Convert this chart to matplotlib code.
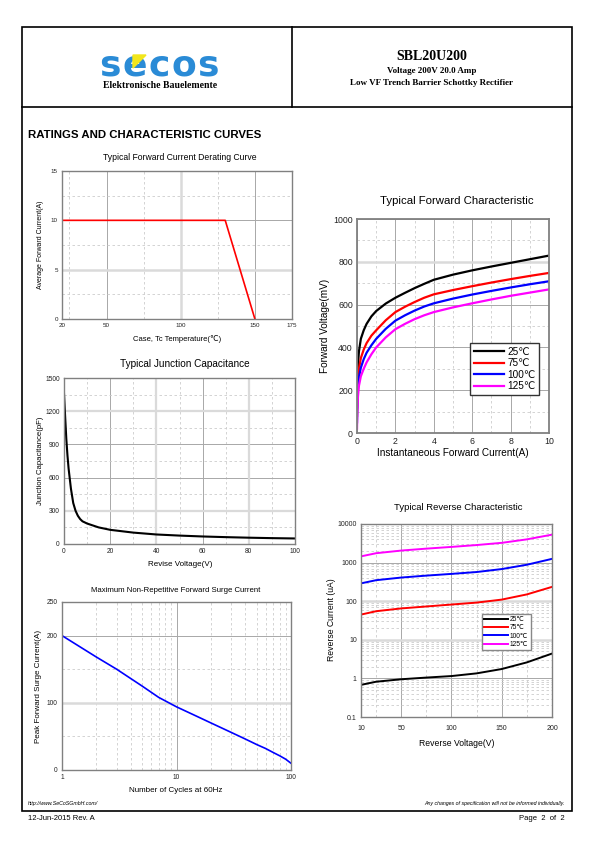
import matplotlib
matplotlib.use("Agg")
import matplotlib.pyplot as plt
from matplotlib.patches import Rectangle, Polygon

plt.rcParams['font.family'] = ['Liberation Sans', 'DejaVu Sans']

# ---- data ----
# derating curve
derate_temp = [20, 130, 150]
derate_amp = [10, 10, 0]

# junction capacitance
cap_volt = [0, 0.5, 1, 1.5, 2, 3, 4, 5, 6, 7, 8, 10, 15, 20, 30, 40, 50, 60, 70, 80, 90, 100]
cap_pf = [1360, 1150, 950, 800, 680, 500, 370, 300, 255, 225, 205, 185, 150, 128, 103, 86, 76, 68, 62, 57, 53, 50]

# surge current
surge_cycles = [1, 2, 3, 5, 7, 10, 15, 20, 30, 40, 50, 60, 70, 80, 90, 100]
surge_amp = [200, 168, 150, 125, 108, 94, 80, 70, 56, 46, 38, 32, 26, 21, 16, 10]

# forward characteristic
fwd_current = [0, 0.02, 0.05, 0.1, 0.2, 0.35, 0.5, 0.75, 1, 1.5, 2, 2.5, 3, 3.5, 4, 5, 6, 7, 8, 9, 10]
fwd_25 = [120, 250, 320, 380, 440, 480, 510, 545, 570, 605, 632, 655, 677, 697, 716, 740, 760, 778, 795, 812, 829]
fwd_75 = [80, 190, 250, 300, 350, 390, 420, 455, 480, 527, 565, 590, 612, 632, 648, 668, 686, 703, 719, 734, 748]
fwd_100 = [50, 150, 210, 260, 305, 345, 375, 410, 440, 487, 525, 550, 572, 591, 606, 628, 647, 664, 680, 695, 709]
fwd_125 = [20, 110, 170, 220, 265, 300, 330, 368, 400, 447, 485, 510, 532, 550, 565, 587, 606, 624, 641, 656, 671]

# reverse characteristic
rev_volt = [10, 25, 50, 75, 100, 125, 150, 175, 200]
rev_25 = [0.68, 0.82, 0.95, 1.05, 1.15, 1.35, 1.75, 2.6, 4.4]
rev_75 = [45, 55, 65, 73, 82, 92, 110, 150, 235]
rev_100 = [290, 350, 410, 460, 510, 570, 680, 880, 1250]
rev_125 = [1450, 1750, 2050, 2300, 2550, 2850, 3250, 4000, 5300]

temp_labels = ['25\u2103', '75\u2103', '100\u2103', '125\u2103']
temp_colors = ['black', '#ff0000', '#0000ff', '#ff00ff']

W, H = 595, 842
fig = plt.figure(figsize=(W / 100, H / 100), dpi=100)

page = fig.add_axes([0, 0, 1, 1])
page.set_xlim(0, W)
page.set_ylim(H, 0)
page.axis('off')


def box(x0, y0, x1, y1):
    return fig.add_axes([x0 / W, 1 - y1 / H, (x1 - x0) / W, (y1 - y0) / H])


def style(ax, tsize):
    for s in ax.spines.values():
        s.set_color('#808080')
        s.set_linewidth(1.0)
    ax.set_axisbelow(True)
    ax.tick_params(which='both', length=0, labelsize=tsize, pad=3, colors='#222222')
    ax.grid(which='major', color='#a8a8a8', lw=0.7, ls='-')
    ax.grid(which='minor', color='#cccccc', lw=0.6, ls=(0, (3, 3)))


# ---- page frame and header ----
page.add_patch(Rectangle((22, 27), 550, 784, fill=False, lw=1.2, ec='black'))
page.plot([22, 572], [107, 107], color='black', lw=1.2)
page.plot([292, 292], [27, 107], color='black', lw=1.2)

# logo letters, spaced out like the original artwork
for i, ch in enumerate('secos'):
    page.text(110 + 24.5 * i, 66, ch, fontsize=26, fontweight='heavy', color='#2a8bd6',
              family='DejaVu Sans', ha='center', va='center')
page.add_patch(Polygon([[133, 55], [146, 55], [133, 68]], closed=True, color='#f2e61c', zorder=5))
page.text(160, 86, 'Elektronische Bauelemente', fontsize=7, fontweight='bold',
          family='Liberation Serif', ha='center', va='center')

page.text(432, 56, 'SBL20U200', fontsize=10, fontweight='bold', family='Liberation Serif',
          ha='center', va='center')
page.text(432, 71, 'Voltage 200V 20.0 Amp', fontsize=6.5, fontweight='bold',
          family='Liberation Serif', ha='center', va='center')
page.text(432, 83, 'Low VF Trench Barrier Schottky Rectifier', fontsize=6.5, fontweight='bold',
          family='Liberation Serif', ha='center', va='center')

page.text(28, 135, 'RATINGS AND CHARACTERISTIC CURVES', fontsize=8.2, fontweight='bold',
          ha='left', va='center')

# footer
page.text(28, 803, 'http://www.SeCoSGmbH.com/', fontsize=3.8, style='italic', ha='left', va='center')
page.text(565, 803, 'Any changes of specification will not be informed individually.', fontsize=3.8,
          style='italic', ha='right', va='center')
page.text(28, 818, '12-Jun-2015 Rev. A', fontsize=5.5, ha='left', va='center')
page.text(565, 818, 'Page  2  of  2', fontsize=5.5, ha='right', va='center')

# ---- chart 1: derating ----
ax1 = box(62, 171, 292, 319)
style(ax1, 4.5)
ax1.plot(derate_temp, derate_amp, color='#ff0000', lw=1.2)
ax1.set_xlim(20, 175)
ax1.set_ylim(0, 15)
ax1.set_xticks([20, 50, 100, 150, 175])
ax1.set_xticks([25, 75, 125], minor=True)
ax1.set_yticks([0, 5, 10, 15])
ax1.set_yticks([2.5, 7.5, 12.5], minor=True)
ax1.axvline(100, color='#dadada', lw=1.8, zorder=0.6)
ax1.axhline(5, color='#dadada', lw=1.8, zorder=0.6)
page.text(180, 157, 'Typical Forward Current Derating Curve', fontsize=6.2, ha='center', va='center')
page.text(40, 245, 'Average Forward Current(A)', fontsize=5, rotation=90, ha='center', va='center')
page.text(177, 339, 'Case, Tc Temperature(\u2103)', fontsize=5.5, ha='center', va='center')

# ---- chart 2: junction capacitance ----
ax2 = box(64, 378, 295, 544)
style(ax2, 4.8)
ax2.plot(cap_volt, cap_pf, color='black', lw=1.5)
ax2.set_xlim(0, 100)
ax2.set_ylim(0, 1500)
ax2.set_xticks([0, 20, 40, 60, 80, 100])
ax2.set_xticks([10, 30, 50, 70, 90], minor=True)
ax2.set_yticks([0, 300, 600, 900, 1200, 1500])
ax2.set_yticks([150, 450, 750, 1050, 1350], minor=True)
for v in (40, 80):
    ax2.axvline(v, color='#dadada', lw=1.6, zorder=0.6)
for v in (300, 1200):
    ax2.axhline(v, color='#dadada', lw=1.6, zorder=0.6)
page.text(185, 364, 'Typical Junction Capacitance', fontsize=7.2, ha='center', va='center')
page.text(40, 461, 'Junction Capacitance(pF)', fontsize=5.6, rotation=90, ha='center', va='center')
page.text(180, 564, 'Revise Voltage(V)', fontsize=5.8, ha='center', va='center')

# ---- chart 3: surge current ----
ax3 = box(62, 602, 291, 770)
style(ax3, 4.8)
ax3.plot(surge_cycles, surge_amp, color='#0000ff', lw=1.2)
ax3.set_xscale('log')
ax3.set_xlim(1, 100)
ax3.set_ylim(0, 250)
ax3.set_xticks([1, 10, 100], ['1', '10', '100'])
ax3.set_xticks([2, 3, 4, 5, 6, 7, 8, 9, 20, 30, 40, 50, 60, 70, 80, 90], minor=True)
ax3.xaxis.set_minor_formatter(matplotlib.ticker.NullFormatter())
ax3.set_yticks([0, 100, 200, 250])
ax3.set_yticks([50, 150], minor=True)
ax3.axhline(100, color='#dadada', lw=1.8, zorder=0.6)
page.text(176, 590, 'Maximum Non-Repetitive Forward Surge Current', fontsize=5.6, ha='center', va='center')
page.text(38, 686, 'Peak Forward Surge Current(A)', fontsize=5.8, rotation=90, ha='center', va='center')
page.text(176, 790, 'Number of Cycles at 60Hz', fontsize=5.8, ha='center', va='center')

# ---- chart 4: forward characteristic ----
ax4 = box(357, 219, 549, 433)
style(ax4, 6.3)
for s in ax4.spines.values():
    s.set_linewidth(1.3)
for ys, lab, col in zip([fwd_25, fwd_75, fwd_100, fwd_125], temp_labels, temp_colors):
    ax4.plot(fwd_current, ys, color=col, lw=1.6, label=lab)
ax4.set_xlim(0, 10)
ax4.set_ylim(0, 1000)
ax4.set_xticks([0, 2, 4, 6, 8, 10])
ax4.set_xticks([1, 3, 5, 7, 9], minor=True)
ax4.set_yticks([0, 200, 400, 600, 800, 1000])
ax4.set_yticks([100, 300, 500, 700, 900], minor=True)
ax4.axhline(800, color='#dadada', lw=1.8, zorder=0.6)
ax4.legend(loc='lower right', bbox_to_anchor=(0.975, 0.155), fontsize=7.2, frameon=True,
           fancybox=False, framealpha=1, edgecolor='#333333', handlelength=3.0,
           handletextpad=0.4, borderpad=0.35, labelspacing=0.15)
page.text(457, 201, 'Typical Forward Characteristic', fontsize=8.2, ha='center', va='center')
page.text(325, 326, 'Forward Voltage(mV)', fontsize=7.2, rotation=90, ha='center', va='center')
page.text(453, 453, 'Instantaneous Forward Current(A)', fontsize=7.2, ha='center', va='center')

# ---- chart 5: reverse characteristic ----
ax5 = box(361, 524, 552, 717)
style(ax5, 5)
for ys, lab, col in zip([rev_25, rev_75, rev_100, rev_125], temp_labels, temp_colors):
    ax5.plot(rev_volt, ys, color=col, lw=1.4, label=lab)
ax5.set_yscale('log')
ax5.set_xlim(10, 200)
ax5.set_ylim(0.1, 10000)
ax5.set_xticks([10, 50, 100, 150, 200])
ax5.set_xticks([25, 75, 125, 175], minor=True)
ax5.set_yticks([0.1, 1, 10, 100, 1000, 10000], ['0.1', '1', '10', '100', '1000', '10000'])
ax5.yaxis.set_minor_locator(matplotlib.ticker.LogLocator(base=10, subs=[2, 3, 4, 5, 6, 7, 8, 9]))
ax5.yaxis.set_minor_formatter(matplotlib.ticker.NullFormatter())
ax5.tick_params(axis='x', pad=6)
for v in (10, 100):
    ax5.axhline(v, color='#dadada', lw=1.8, zorder=0.6)
ax5.legend(loc='lower right', bbox_to_anchor=(0.905, 0.33), fontsize=4.8, frameon=True,
           fancybox=False, framealpha=1, edgecolor='#888888', handlelength=3.6,
           handletextpad=0.3, borderpad=0.3, labelspacing=0.2)
page.text(458, 508, 'Typical Reverse Characteristic', fontsize=6.8, ha='center', va='center')
page.text(331, 620, 'Reverse Current (uA)', fontsize=6.2, rotation=90, ha='center', va='center')
page.text(457, 743, 'Reverse Voltage(V)', fontsize=6.2, ha='center', va='center')

fig.savefig('out.png', dpi=100)
